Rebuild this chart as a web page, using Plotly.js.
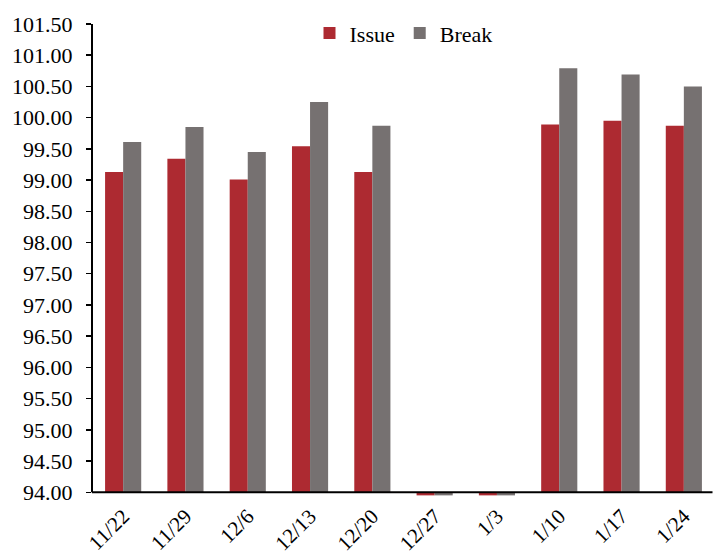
<!DOCTYPE html>
<html>
<head>
<meta charset="utf-8">
<script src="https://cdn.plot.ly/plotly-3.0.1.min.js"></script>
<style>
  html, body { margin: 0; padding: 0; background: #ffffff; }
  #chart { width: 715px; height: 557px; }
</style>
</head>
<body>
<div id="chart"></div>
<script>
// Weekly prices: issue price vs. break price
const dates = ["11/22", "11/29", "12/6", "12/13", "12/20", "12/27", "1/3", "1/10", "1/17", "1/24"];
const issuePrice = [99.13, 99.34, 99.01, 99.54, 99.13, 93.95, 93.95, 99.89, 99.95, 99.87];
const breakPrice = [99.61, 99.85, 99.45, 100.25, 99.87, 93.95, 93.95, 100.79, 100.69, 100.50];
const yTicks = [94, 94.5, 95, 95.5, 96, 96.5, 97, 97.5, 98, 98.5, 99, 99.5, 100, 100.5, 101, 101.5];

const axisFloor = 94;
const axisTop = 101.5;
const family = "Liberation Serif, Times New Roman, Times, serif";
const font = { family: family, size: 22, color: "#000000" };
const dateFont = { family: family, size: 21, color: "#000000" };

// Bars grow from the axis floor, so weeks without a quote show only a sliver under the axis
function barTrace(name, values, color) {
  return {
    type: "bar",
    name: name,
    x: dates,
    y: values.map(v => v - axisFloor),
    base: axisFloor,
    marker: { color: color, line: { width: 0 } },
    hoverinfo: "skip"
  };
}

const data = [
  barTrace("Issue", issuePrice, "#AD2A31"),
  barTrace("Break", breakPrice, "#767171")
];

const layout = {
  width: 715,
  height: 557,
  margin: { l: 92, r: 0, t: 24, b: 61 },
  paper_bgcolor: "#ffffff",
  plot_bgcolor: "#ffffff",
  font: font,
  bargap: 0.42,
  bargroupgap: 0,
  barmode: "group",
  showlegend: true,
  legend: {
    orientation: "h",
    x: 0.5, xanchor: "center",
    y: 1.025, yanchor: "top",
    font: font,
    bgcolor: "rgba(0,0,0,0)"
  },
  xaxis: {
    type: "category",
    showline: false,
    ticks: "",
    tickangle: -45,
    tickfont: dateFont,
    ticklabelstandoff: 3,
    showgrid: false,
    zeroline: false
  },
  yaxis: {
    range: [93.94, axisTop],
    tickvals: yTicks,
    ticktext: yTicks.map(v => v.toFixed(2)),
    showline: false,
    ticks: "outside",
    ticklen: 5,
    tickwidth: 1.5,
    tickcolor: "#000000",
    tickfont: font,
    ticklabelstandoff: 9,
    showgrid: false,
    zeroline: false
  },
  // axis lines meet at the 94.00 floor
  shapes: [
    { type: "line", xref: "paper", yref: "y", x0: 0, x1: 0.996, y0: axisFloor, y1: axisFloor,
      line: { color: "#000000", width: 2 }, layer: "above" },
    { type: "line", xref: "paper", yref: "y", x0: 0, x1: 0, y0: axisFloor, y1: axisTop,
      line: { color: "#000000", width: 2 }, layer: "above" }
  ]
};

Plotly.newPlot("chart", data, layout, { displayModeBar: false, staticPlot: true });
</script>
</body>
</html>
